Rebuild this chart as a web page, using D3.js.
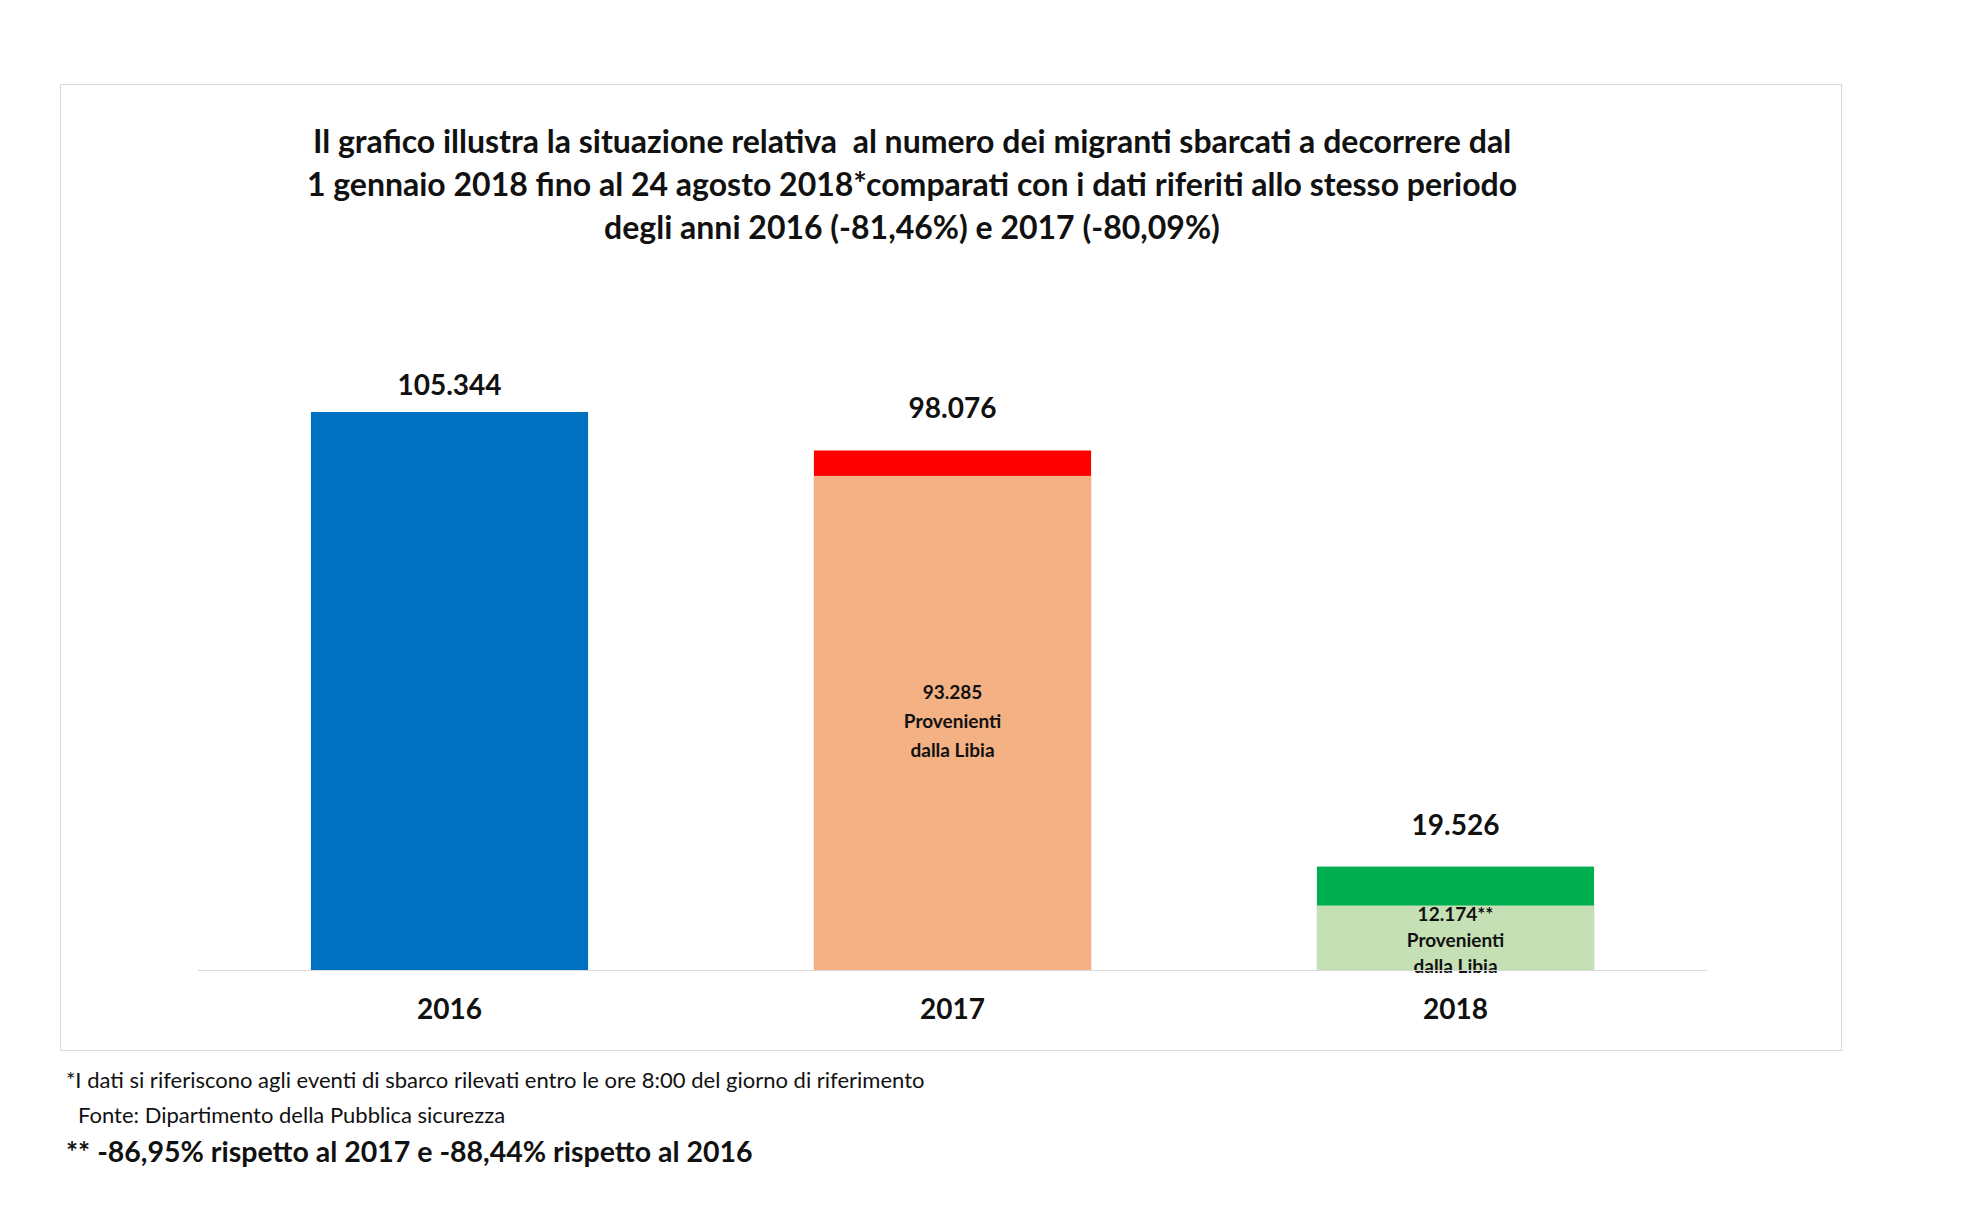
<!DOCTYPE html>
<html lang="it">
<head>
<meta charset="UTF-8" />
<title>Migranti sbarcati</title>
<style>
  body { margin: 0; background: #fff; }
  text { font-family: Lato, "Open Sans", sans-serif; fill: #111; }
</style>
</head>
<body>
<svg width="1965" height="1228"></svg>
<script src="https://d3js.org/d3.v7.min.js"></script>
<script>
const years = ['2016', '2017', '2018'];
const totals = [105344, 98076, 19526];
const libia = [null, 93285, 12174];
const totalLabels = ['105.344', '98.076', '19.526'];
const libiaLabels = [null, ['93.285', 'Provenienti', 'dalla Libia'], ['12.174**', 'Provenienti', 'dalla Libia']];
const topColors = ['#0070c0', '#ff0000', '#00b050'];
const baseColors = [null, '#f4b183', '#c5e0b4'];
const titleLines = [
    'Il grafico illustra la situazione relativa  al numero dei migranti sbarcati a decorrere dal',
    '1 gennaio 2018 fino al 24 agosto 2018*comparati con i dati riferiti allo stesso periodo',
    'degli anni 2016 (-81,46%) e 2017 (-80,09%)'
];

const svg = d3.select('svg');

svg.append('rect').attr('x', 60.5).attr('y', 84.5).attr('width', 1781).attr('height', 966)
    .attr('fill', 'none').attr('stroke', '#d9d9d9');

svg.append('g').selectAll('text').data(titleLines).join('text')
    .attr('x', 912).attr('y', (d, i) => 153 + i * 43)
    .attr('text-anchor', 'middle').attr('font-size', 32).attr('font-weight', 'bold')
    .attr('xml:space', 'preserve')
    .text((d) => d);

const x = d3.scaleBand().domain(years).range([198, 1707]).paddingInner(0.449).paddingOuter(0.2245);
const y = d3.scaleLinear().domain([0, 105344]).range([970, 412]);

const g = svg.append('g');
// top (total) segments
g.selectAll('rect.total').data(years).join('rect')
    .attr('class', 'total')
    .attr('x', (d) => x(d)).attr('width', x.bandwidth())
    .attr('y', (d, i) => y(totals[i]))
    .attr('height', (d, i) => y(0) - y(totals[i]))
    .attr('fill', (d, i) => topColors[i]);
// Libia segments
g.selectAll('rect.libia').data(years.filter((d, i) => libia[i] !== null)).join('rect')
    .attr('class', 'libia')
    .attr('x', (d) => x(d)).attr('width', x.bandwidth())
    .attr('y', (d) => y(libia[years.indexOf(d)]))
    .attr('height', (d) => y(0) - y(libia[years.indexOf(d)]))
    .attr('fill', (d) => baseColors[years.indexOf(d)]);

svg.append('line').attr('x1', 198).attr('x2', 1707).attr('y1', 970.5).attr('y2', 970.5)
    .attr('stroke', '#d9d9d9');

g.selectAll('text.val').data(years).join('text')
    .attr('class', 'val')
    .attr('x', (d) => x(d) + x.bandwidth() / 2)
    .attr('y', (d, i) => y(totals[i]) - (i === 0 ? 17 : 32))
    .attr('text-anchor', 'middle').attr('font-size', 28).attr('font-weight', 'bold')
    .text((d, i) => totalLabels[i]);

years.forEach((yr, i) => {
    if (!libiaLabels[i]) return;
    const cx = x(yr) + x.bandwidth() / 2;
    const top = i === 1 ? y(libia[i]) + 223 : y(libia[i]) + 15;
    const gap = i === 1 ? 29 : 26;
    g.append('g').selectAll('text').data(libiaLabels[i]).join('text')
        .attr('x', cx).attr('y', (d, j) => top + j * gap)
        .attr('text-anchor', 'middle').attr('font-size', 19).attr('font-weight', 'bold')
        .attr('fill', '#222')
        .text((d) => d);
});

svg.append('g').selectAll('text').data(years).join('text')
    .attr('x', (d) => x(d) + x.bandwidth() / 2).attr('y', 1019)
    .attr('text-anchor', 'middle').attr('font-size', 28).attr('font-weight', 'bold')
    .text((d) => d);

svg.append('text').attr('x', 66).attr('y', 1088).attr('font-size', 22)
    .text('*I dati si riferiscono agli eventi di sbarco rilevati entro le ore 8:00 del giorno di riferimento');
svg.append('text').attr('x', 78).attr('y', 1123).attr('font-size', 22)
    .text('Fonte: Dipartimento della Pubblica sicurezza');
svg.append('text').attr('x', 66).attr('y', 1162).attr('font-size', 28.5).attr('font-weight', 'bold')
    .text('** -86,95% rispetto al 2017 e -88,44% rispetto al 2016');
</script>
</body>
</html>
